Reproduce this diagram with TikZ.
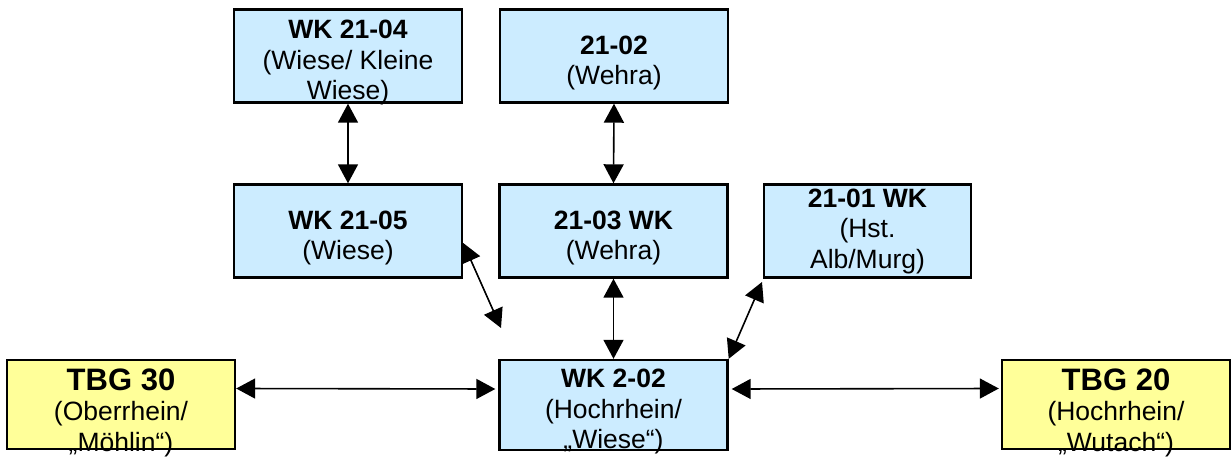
\documentclass[tikz,border=0pt]{standalone}
\usepackage{fontspec}
\setmainfont{Liberation Sans}
\usepackage{xcolor}
\usepackage{tikz}
\usetikzlibrary{arrows.meta}

\definecolor{wkblue}{HTML}{CCECFF}
\definecolor{tbgyellow}{HTML}{FFFF99}
\newcommand{\wktitle}[1]{\rule{0pt}{32pt}\textbf{#1}}
\newcommand{\tbgtitle}[1]{\rule{0pt}{38pt}{\fontsize{31}{32}\selectfont\textbf{#1}}}

\tikzset{
  wkbox/.style={draw, line width=2.4pt, fill=wkblue, align=center, inner xsep=0pt, inner ysep=-10pt,
    minimum width=228pt, minimum height=93pt, font=\fontsize{26.5}{30.5}\selectfont},
  tbgbox/.style={wkbox, fill=tbgyellow},
  link/.style={line width=1.6pt, {Triangle[length=19pt,width=20pt]}-{Triangle[length=19pt,width=20pt]}}
}

\begin{document}
\begin{tikzpicture}[x=1pt,y=1pt]
                \useasboundingbox (0,0) rectangle (1232,-460);
                \node [wkbox] (w2104) at (348,-56) {\wktitle{WK 21-04}\\(Wiese/ Kleine\\Wiese)};
                \node [wkbox] (w2102) at (614,-56) {\wktitle{21-02}\\(Wehra)};
                \node [wkbox] (w2105) at (348,-231) {\wktitle{WK 21-05}\\(Wiese)};
                \node [wkbox] (w2103) at (613.5,-231) {\wktitle{21-03 WK}\\(Wehra)};
                \node [wkbox, minimum width=207pt] (w2101) at (867.5,-231) {\textbf{21-01 WK}\\(Hst.\\Alb/Murg)};
                \node [wkbox, minimum height=90pt] (w202) at (613.5,-405) {\wktitle{WK 2-02}\\(Hochrhein/\\„Wiese“)};
                \node [tbgbox, minimum height=89pt] (tbg30) at (121,-404.5) {\tbgtitle{TBG 30}\\(Oberrhein/\\„Möhlin“)};
                \node [tbgbox, minimum height=89pt] (tbg20) at (1116,-404.5) {\tbgtitle{TBG 20}\\(Hochrhein/\\„Wutach“)};
                \coordinate (d1) at (501,-328);
                \coordinate (d2) at (762,-282);
                \draw [link] (w2104.south) -- (w2105.north);
                \draw [link] (w2102.south) -- (w2103.north);
                \draw [link] (w2103.south) -- (w202.north);
                \draw [link] ([yshift=-12pt]w2105.east) -- (d1);
                \draw [link] (d2) -- (w202.north east);
                \draw [link] ([yshift=16pt]tbg30.east) -- ([yshift=16pt,xshift=-3pt]w202.west);
                \draw [link] ([yshift=16pt,xshift=3pt]w202.east) -- ([yshift=16pt,xshift=-2pt]tbg20.west);
            \end{tikzpicture}
\end{document}
